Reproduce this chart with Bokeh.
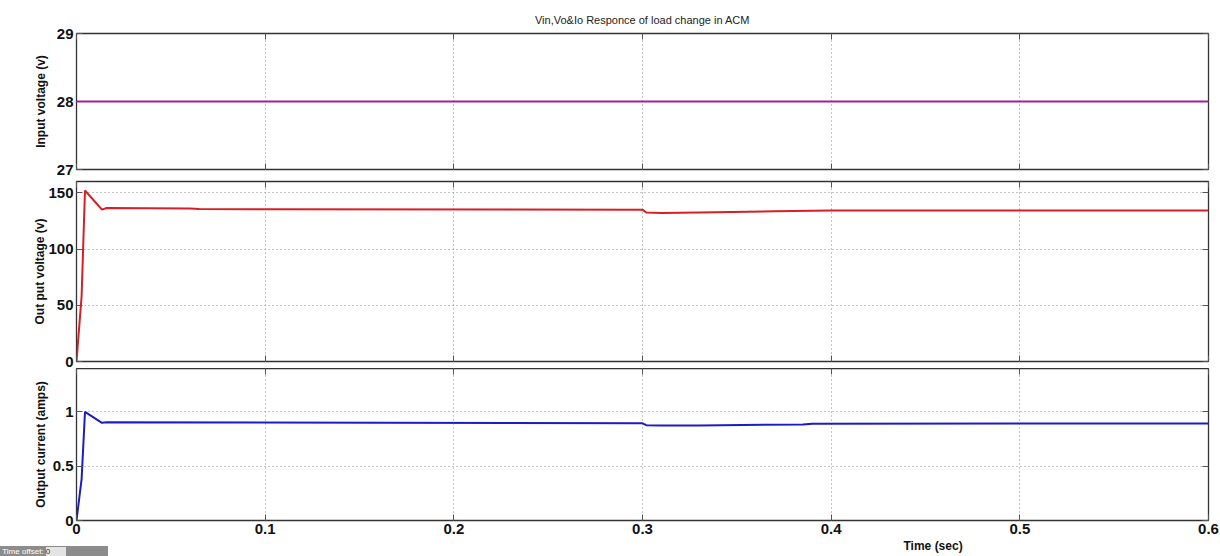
from bokeh.plotting import figure
from bokeh.layouts import column
from bokeh.models import Range1d, FixedTicker, Title, LinearAxis, Div
from bokeh.embed import file_html
from bokeh.resources import INLINE

# Simulation traces (time in seconds)
t_vin = [0.0, 0.6]
vin = [28.0, 28.0]

t_vo = [0.0, 0.0027, 0.0045, 0.0135, 0.016, 0.06, 0.065, 0.30, 0.302, 0.31, 0.33, 0.37, 0.40, 0.6]
vo = [0.0, 58.0, 152.0, 135.0, 136.5, 136.0, 135.5, 135.0, 132.5, 132.0, 132.5, 133.5, 134.3, 134.3]

t_io = [0.0, 0.0027, 0.0045, 0.0135, 0.016, 0.30, 0.302, 0.31, 0.33, 0.385, 0.39, 0.6]
io = [0.0, 0.38, 1.0, 0.90, 0.905, 0.895, 0.878, 0.874, 0.876, 0.885, 0.892, 0.893]

x_ticks = [0, 0.1, 0.2, 0.3, 0.4, 0.5, 0.6]
vin_ticks = [27, 28, 29]
vo_ticks = [0, 50, 100, 150]
io_ticks = [0, 0.5, 1]

FONT = "Liberation Sans"


def hide_labels(ax):
    # keep the inward tick marks, draw no tick labels
    ax.major_label_text_color = None
    ax.major_label_text_font_size = "1px"
    ax.major_label_standoff = 0


def tick_only_axis(ticks):
    ax = LinearAxis(ticker=FixedTicker(ticks=ticks))
    ax.major_tick_in = 6
    ax.major_tick_out = 0
    ax.minor_tick_line_color = None
    ax.axis_line_color = None
    ax.major_tick_line_color = "#555555"
    hide_labels(ax)
    return ax


def panel(height, top, bottom, yr, yticks, ylabel, standoff, show_x):
    p = figure(width=1220, height=height, output_backend="svg", toolbar_location=None,
               x_range=Range1d(0, 0.6), y_range=Range1d(*yr),
               min_border_left=76, min_border_right=12,
               min_border_top=top, min_border_bottom=bottom)
    p.outline_line_color = "#333333"
    p.outline_line_width = 1.3
    p.background_fill_color = "white"
    p.border_fill_color = "white"
    p.xaxis.ticker = FixedTicker(ticks=x_ticks)
    p.yaxis.ticker = FixedTicker(ticks=yticks)
    for ax in (p.xaxis[0], p.yaxis[0]):
        ax.major_tick_in = 6
        ax.major_tick_out = 0
        ax.minor_tick_line_color = None
        ax.axis_line_color = None
        ax.major_tick_line_color = "#555555"
        ax.major_label_text_font = FONT
        ax.major_label_text_font_style = "bold"
        ax.major_label_text_font_size = "15px"
        ax.major_label_text_color = "#111111"
        ax.major_label_standoff = 3
    p.yaxis.axis_label = ylabel
    p.yaxis.axis_label_text_font = FONT
    p.yaxis.axis_label_text_font_style = "bold"
    p.yaxis.axis_label_text_font_size = "12px"
    p.yaxis.axis_label_text_color = "#111111"
    p.yaxis.axis_label_standoff = standoff
    if not show_x:
        hide_labels(p.xaxis[0])
    p.xaxis.major_label_overrides = {0: "0", 0.6: "0.6"}
    p.add_layout(tick_only_axis(yticks), "right")
    p.add_layout(tick_only_axis(x_ticks), "above")
    p.grid.grid_line_color = "#8a8a8a"
    p.grid.grid_line_dash = "1 3"
    p.grid.grid_line_width = 1
    return p


p1 = panel(176, 33, 7, (27, 29), vin_ticks, "Input voltage (v)", 6, False)
p1.title.text = "Vin,Vo&Io Responce of load change in ACM"
p1.title.align = "center"
p1.title.text_font = FONT
p1.title.text_font_style = "normal"
p1.title.text_font_size = "11px"
p1.title.text_color = "#222222"
p1.title.standoff = 16
p1.line(t_vin, vin, line_color="#a020a0", line_width=2)

p2 = panel(192, 5, 7, (0, 160), vo_ticks, "Out put voltage (v)", -2, False)
p2.line(t_vo, vo, line_color="#d61f26", line_width=2)

p3 = panel(188, 0, 36, (0, 1.4), io_ticks, "Output current (amps)", 2, True)
p3.line(t_io, io, line_color="#1c1cc4", line_width=2)

xlab = Title(text="Time (sec)", align="left", offset=827, standoff=0,
             text_font=FONT, text_font_style="bold", text_font_size="12px",
             text_color="#111111")
p3.add_layout(xlab, "below")

offset_box = Div(
    text=('<div style="background:#8c8c8c;width:108px;height:11px;'
          'font-family:\'Liberation Sans\';font-size:8px;line-height:11px;color:white;'
          'white-space:nowrap;overflow:hidden;">&nbsp;Time offset:&nbsp;'
          '<span style="display:inline-block;background:#e4e4e4;color:#333;'
          'width:20px;height:9px;line-height:9px;vertical-align:middle;">0</span></div>'),
    width=108, height=11, margin=(-11, 0, 0, 0))

layout = column(p1, p2, p3, offset_box, spacing=0)
open("out.html", "w").write(file_html(layout, INLINE))
